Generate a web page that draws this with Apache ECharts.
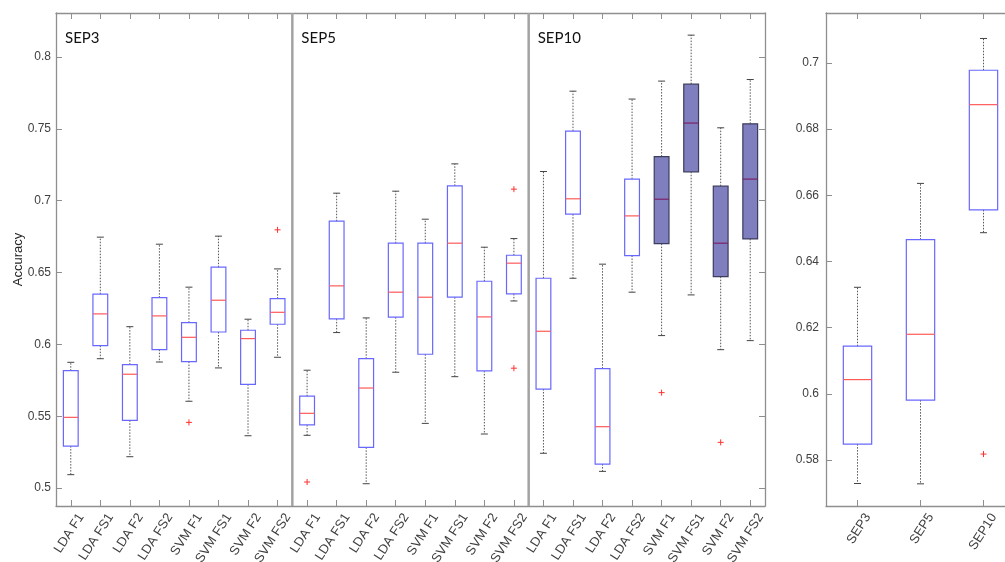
<!DOCTYPE html>
<html>
<head>
<meta charset="utf-8">
<script src="https://cdn.jsdelivr.net/npm/echarts@6/dist/echarts.min.js"></script>
<style>
html,body{margin:0;padding:0;background:#fff;}
#chart{width:1005px;height:562px;}
</style>
</head>
<body>
<div id="chart"></div>
<script>
// ---------- data ----------
var groupNames = ['SEP3', 'SEP5', 'SEP10'];
var methods = ['LDA F1', 'LDA FS1', 'LDA F2', 'LDA FS2', 'SVM F1', 'SVM FS1', 'SVM F2', 'SVM FS2'];
// [lower whisker, Q1, median, Q3, upper whisker]
var sep3Stats = [
  [0.5093, 0.5292, 0.5492, 0.5817, 0.5875],
  [0.5900, 0.5991, 0.6212, 0.6349, 0.6746],
  [0.5218, 0.5471, 0.5792, 0.5859, 0.6123],
  [0.5877, 0.5963, 0.6198, 0.6325, 0.6697],
  [0.5604, 0.5880, 0.6049, 0.6151, 0.6398],
  [0.5836, 0.6086, 0.6307, 0.6537, 0.6753],
  [0.5364, 0.5722, 0.6040, 0.6098, 0.6175],
  [0.5910, 0.6140, 0.6223, 0.6318, 0.6525]
];
var sep5Stats = [
  [0.5367, 0.5439, 0.5520, 0.5639, 0.5820],
  [0.6082, 0.6177, 0.6407, 0.6857, 0.7052],
  [0.5030, 0.5283, 0.5696, 0.5900, 0.6184],
  [0.5806, 0.6189, 0.6363, 0.6704, 0.7066],
  [0.5450, 0.5931, 0.6328, 0.6704, 0.6871],
  [0.5775, 0.6328, 0.6704, 0.7103, 0.7256],
  [0.5376, 0.5815, 0.6191, 0.6439, 0.6676],
  [0.6302, 0.6351, 0.6565, 0.6620, 0.6736]
];
var sep10Stats = [
  [0.5242, 0.5689, 0.6091, 0.6460, 0.7203],
  [0.6460, 0.6906, 0.7013, 0.7484, 0.7762],
  [0.5116, 0.5167, 0.5427, 0.5831, 0.6558],
  [0.6363, 0.6618, 0.6894, 0.7150, 0.7707],
  [0.6061, 0.6701, 0.7010, 0.7307, 0.7832],
  [0.6344, 0.7201, 0.7540, 0.7811, 0.8152],
  [0.5963, 0.6471, 0.6704, 0.7101, 0.7507],
  [0.6026, 0.6734, 0.7150, 0.7535, 0.7843]
];
var sep3Outliers = [['SVM F1', 0.5457], ['SVM FS2', 0.6797]];
var sep5Outliers = [['LDA F1', 0.5042], ['SVM FS2', 0.7080], ['SVM FS2', 0.5834]];
var sep10Outliers = [['SVM F1', 0.5664], ['SVM F2', 0.5318]];
var sep10FilledMethods = ['SVM F1', 'SVM FS1', 'SVM F2', 'SVM FS2'];

var summaryCats = ['SEP3', 'SEP5', 'SEP10'];
var summaryStats = [
  [0.5729, 0.5848, 0.6043, 0.6144, 0.6322],
  [0.5728, 0.5981, 0.6180, 0.6466, 0.6636],
  [0.6487, 0.6556, 0.6874, 0.6978, 0.7074]
];
var summaryOutliers = [['SEP10', 0.5818]];

var leftYRange = [0.4875, 0.8306];
var rightYRange = [0.5661, 0.7151];
var yName = 'Accuracy';

// ---------- build ----------
var groupStats = [sep3Stats, sep5Stats, sep10Stats];
var groupOutliers = [sep3Outliers, sep5Outliers, sep10Outliers];
var xCats = [];
groupNames.forEach(function () { methods.forEach(function (m) { xCats.push(m); }); });

var leftBoxes = [];
groupStats.forEach(function (stats, g) {
  stats.forEach(function (s, i) {
    var filled = (g === 2 && sep10FilledMethods.indexOf(methods[i]) >= 0) ? 1 : 0;
    leftBoxes.push([g * methods.length + i, s[0], s[1], s[2], s[3], s[4], filled]);
  });
});
var leftOut = [];
groupOutliers.forEach(function (arr, g) {
  arr.forEach(function (o) { leftOut.push([g * methods.length + methods.indexOf(o[0]), o[1]]); });
});
var rightBoxes = summaryStats.map(function (s, i) { return [i, s[0], s[1], s[2], s[3], s[4], 0]; });
var rightOut = summaryOutliers.map(function (o) { return [summaryCats.indexOf(o[0]), o[1]]; });
var dividerData = groupNames.slice(1).map(function (n, g) { return [(g + 1) * methods.length - 1]; });
var titleData = groupNames.map(function (n, g) { return [g * methods.length]; });

var FONT = 'Liberation Sans';
var AX = '#8f8f8f';

function boxRender(widthFrac) {
  return function (params, api) {
    var x = api.value(0);
    var lo = api.coord([x, api.value(1)]);
    var q1 = api.coord([x, api.value(2)]);
    var md = api.coord([x, api.value(3)]);
    var q3 = api.coord([x, api.value(4)]);
    var hi = api.coord([x, api.value(5)]);
    var filled = api.value(6) === 1;
    var bw = api.size([1, 0])[0] * widthFrac;
    var cx = lo[0];
    var cap = 3.5;
    var wStyle = { stroke: '#555', lineWidth: 1, lineDash: [1.5, 1.5] };
    var cStyle = { stroke: '#444', lineWidth: 1 };
    return {
      type: 'group',
      children: [
        { type: 'line', shape: { x1: cx, y1: q3[1], x2: cx, y2: hi[1] }, style: wStyle },
        { type: 'line', shape: { x1: cx, y1: q1[1], x2: cx, y2: lo[1] }, style: wStyle },
        { type: 'line', shape: { x1: cx - cap, y1: hi[1], x2: cx + cap, y2: hi[1] }, style: cStyle },
        { type: 'line', shape: { x1: cx - cap, y1: lo[1], x2: cx + cap, y2: lo[1] }, style: cStyle },
        { type: 'rect', shape: { x: cx - bw / 2, y: q3[1], width: bw, height: q1[1] - q3[1] },
          style: filled ? { fill: '#7f7fbf', stroke: '#3c3c5c', lineWidth: 1.2 }
                        : { fill: 'none', stroke: '#6868ff', lineWidth: 1.2 } },
        { type: 'line', shape: { x1: cx - bw / 2, y1: md[1], x2: cx + bw / 2, y2: md[1] },
          style: { stroke: filled ? '#7a2266' : '#ff5a5a', lineWidth: 1.2 } }
      ]
    };
  };
}
function plusRender(params, api) {
  var p = api.coord([api.value(0), api.value(1)]);
  var r = 3;
  var st = { stroke: '#ff3030', lineWidth: 1 };
  return { type: 'group', children: [
    { type: 'line', shape: { x1: p[0] - r, y1: p[1], x2: p[0] + r, y2: p[1] }, style: st },
    { type: 'line', shape: { x1: p[0], y1: p[1] - r, x2: p[0], y2: p[1] + r }, style: st }
  ]};
}
function dividerRender(params, api) {
  var i = api.value(0);
  var a = api.coord([i, leftYRange[0]]);
  var b = api.coord([i + 1, leftYRange[0]]);
  var x = (a[0] + b[0]) / 2;
  var cs = params.coordSys;
  return { type: 'line', shape: { x1: x, y1: cs.y, x2: x, y2: cs.y + cs.height },
    style: { stroke: '#a3a3a3', lineWidth: 2.5 } };
}
function titleRender(params, api) {
  var i = api.value(0);
  var a = api.coord([i, leftYRange[1]]);
  var half = api.size([1, 0])[0] / 2;
  return { type: 'text', x: a[0] - half + 9, y: a[1] + 33,
    style: { text: groupNames[params.dataIndex], fill: '#111', font: '15px Lato',
      textAlign: 'left', textVerticalAlign: 'bottom' } };
}

function xAx(gridIndex, data, top) {
  return {
    type: 'category', gridIndex: gridIndex, data: data, position: top ? 'top' : 'bottom',
    boundaryGap: true,
    axisLine: { show: true, lineStyle: { color: AX, width: 1.3 } },
    axisTick: { show: true, inside: true, length: 6, alignWithLabel: true, interval: 0, lineStyle: { color: AX } },
    axisLabel: top ? { show: false } : { show: true, interval: 0, rotate: 57, margin: 2,
      align: 'right', verticalAlign: 'top', padding: [6, 0, 0, 0],
      fontFamily: FONT, fontSize: 13, color: '#404040' },
    splitLine: { show: false }
  };
}
function yAx(gridIndex, range, splitNumber, right, name) {
  return {
    type: 'value', gridIndex: gridIndex, min: range[0], max: range[1], splitNumber: splitNumber,
    position: right ? 'right' : 'left',
    name: name || '', nameLocation: 'middle', nameGap: 31, nameMoveOverlap: false,
    nameTextStyle: { fontFamily: FONT, fontSize: 13, color: '#262626' },
    axisLine: { show: true, lineStyle: { color: AX, width: 1.3 } },
    axisTick: { show: true, inside: true, length: 6, lineStyle: { color: AX } },
    axisLabel: right ? { show: false } : { show: true, showMinLabel: false, showMaxLabel: false,
      margin: gridIndex === 0 ? 5 : 7, fontFamily: FONT, fontSize: 12, color: '#404040' },
    splitLine: { show: false }
  };
}

var option = {
  animation: false,
  backgroundColor: '#fff',
  grid: [
    { left: 56, top: 13, width: 709, height: 493, containLabel: false, outerBoundsMode: 'none' },
    { left: 826, top: 13, width: 189, height: 493, containLabel: false, outerBoundsMode: 'none' }
  ],
  xAxis: [
    xAx(0, xCats, false), xAx(0, xCats, true),
    xAx(1, summaryCats, false), xAx(1, summaryCats, true)
  ],
  yAxis: [
    yAx(0, leftYRange, 6, false, yName), yAx(0, leftYRange, 6, true),
    yAx(1, rightYRange, 7, false), yAx(1, rightYRange, 7, true)
  ],
  series: [
    { type: 'custom', xAxisIndex: 0, yAxisIndex: 0, data: dividerData, renderItem: dividerRender, z: 1 },
    { type: 'custom', xAxisIndex: 0, yAxisIndex: 0, data: titleData, renderItem: titleRender,
      encode: { x: 0 } },
    { type: 'custom', xAxisIndex: 0, yAxisIndex: 0, data: leftBoxes, renderItem: boxRender(0.5),
      encode: { x: 0, y: [1, 2, 3, 4, 5] }, z: 3 },
    { type: 'custom', xAxisIndex: 0, yAxisIndex: 0, data: leftOut, renderItem: plusRender,
      encode: { x: 0, y: 1 }, z: 4 },
    { type: 'custom', xAxisIndex: 2, yAxisIndex: 2, data: rightBoxes, renderItem: boxRender(0.45),
      encode: { x: 0, y: [1, 2, 3, 4, 5] }, z: 3 },
    { type: 'custom', xAxisIndex: 2, yAxisIndex: 2, data: rightOut, renderItem: plusRender,
      encode: { x: 0, y: 1 }, z: 4 }
  ]
};
var chart = echarts.init(document.getElementById('chart'), null, { renderer: 'canvas' });
chart.setOption(option);
</script>
</body>
</html>
